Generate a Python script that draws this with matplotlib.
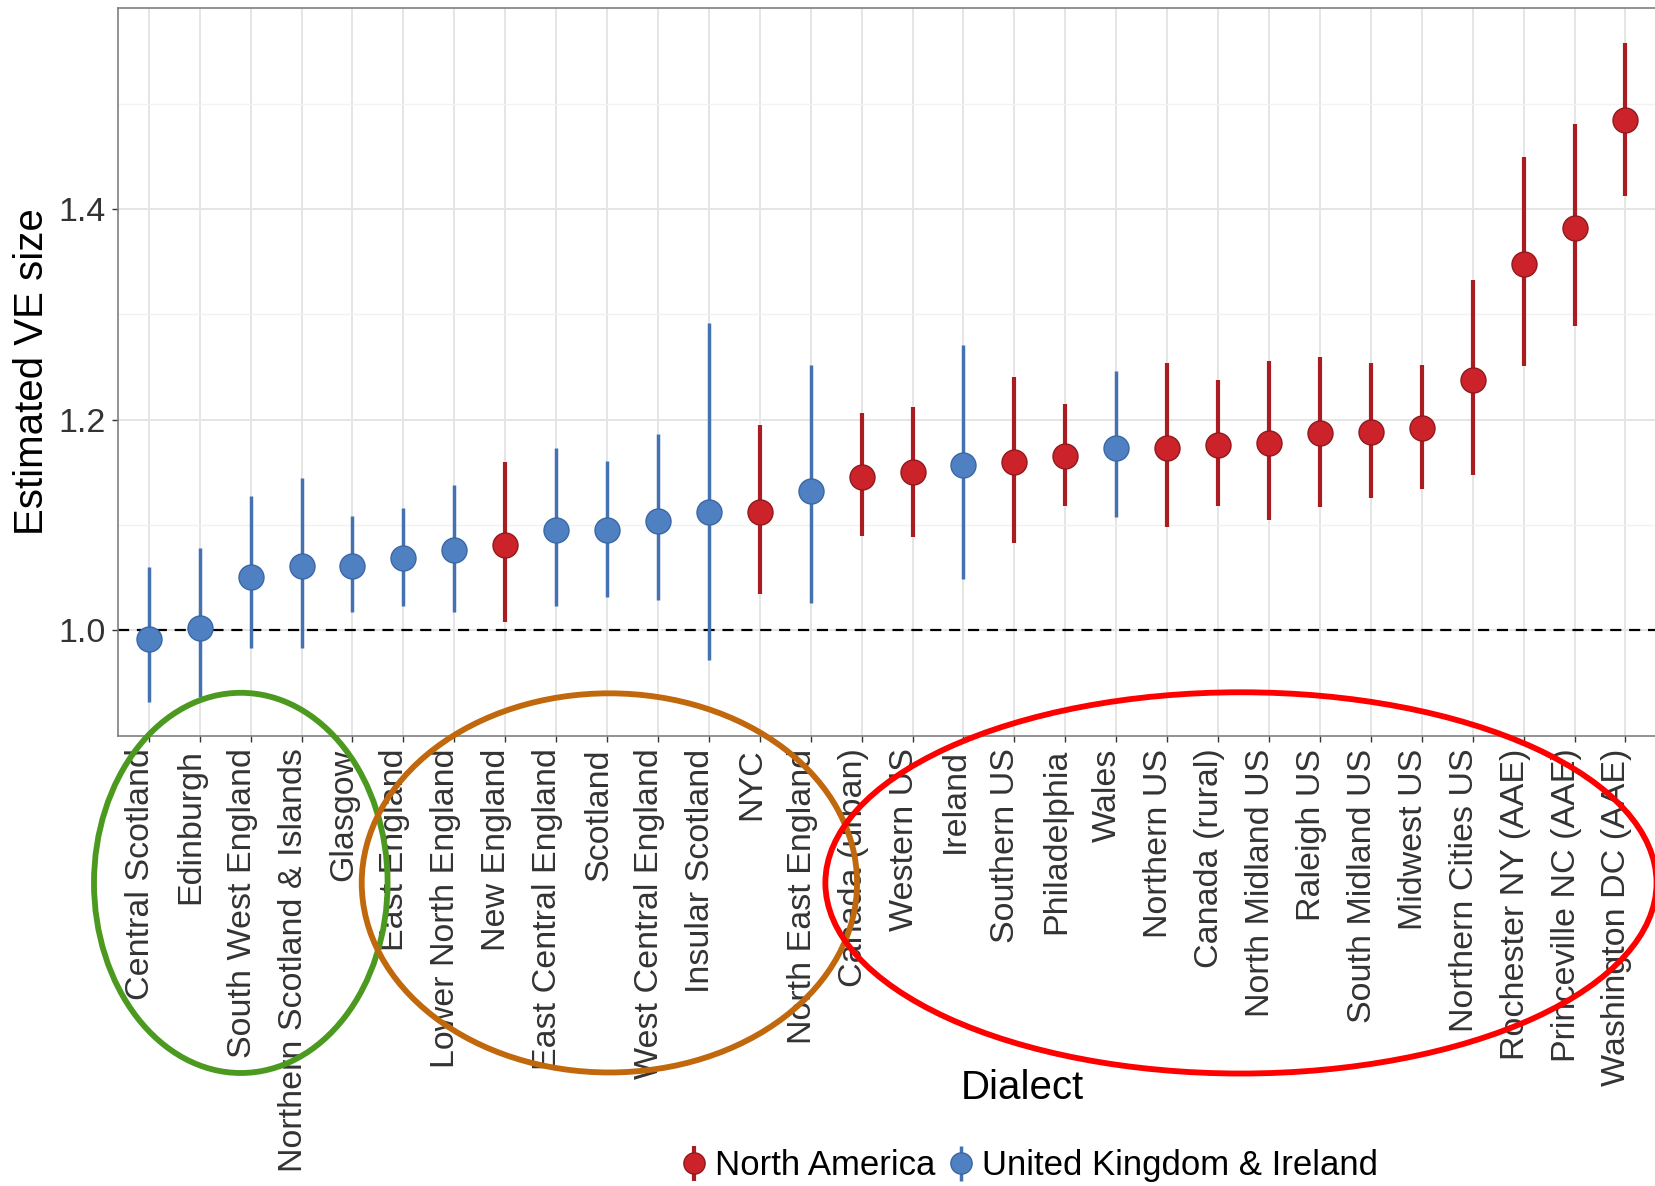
import matplotlib
matplotlib.use("Agg")
import matplotlib.pyplot as plt
import numpy as np
from matplotlib.patches import Ellipse

# dialects, ordered by estimated VE size
dialects = [
    "Central Scotland", "Edinburgh", "South West England",
    "Northern Scotland & Islands", "Glasgow", "East England",
    "Lower North England", "New England", "East Central England", "Scotland",
    "West Central England", "Insular Scotland", "NYC", "North East England",
    "Canada (urban)", "Western US", "Ireland", "Southern US", "Philadelphia",
    "Wales", "Northern US", "Canada (rural)", "North Midland US", "Raleigh US",
    "South Midland US", "Midwest US", "Northern Cities US",
    "Rochester NY (AAE)", "Princeville NC (AAE)", "Washington DC (AAE)",
]
region = [
    "UK", "UK", "UK", "UK", "UK", "UK", "UK", "NA", "UK", "UK",
    "UK", "UK", "NA", "UK", "NA", "NA", "UK", "NA", "NA", "UK",
    "NA", "NA", "NA", "NA", "NA", "NA", "NA", "NA", "NA", "NA",
]
estimate = [
    0.992, 1.002, 1.051, 1.061, 1.061, 1.069, 1.076, 1.081, 1.095, 1.095,
    1.104, 1.112, 1.112, 1.132, 1.146, 1.150, 1.157, 1.160, 1.166, 1.173,
    1.173, 1.176, 1.178, 1.187, 1.188, 1.192, 1.238, 1.348, 1.382, 1.485,
]
lower = [
    0.932, 0.937, 0.983, 0.983, 1.017, 1.023, 1.017, 1.008, 1.023, 1.032,
    1.029, 0.972, 1.035, 1.026, 1.090, 1.089, 1.049, 1.083, 1.118, 1.108,
    1.098, 1.118, 1.105, 1.117, 1.126, 1.134, 1.148, 1.251, 1.289, 1.412,
]
upper = [
    1.060, 1.078, 1.128, 1.145, 1.109, 1.116, 1.138, 1.160, 1.173, 1.161,
    1.186, 1.292, 1.195, 1.252, 1.206, 1.212, 1.271, 1.241, 1.215, 1.246,
    1.254, 1.238, 1.256, 1.260, 1.254, 1.252, 1.333, 1.449, 1.481, 1.558,
]

styles = {
    "NA": dict(label="North America", face="#CC2229", edge="#8E1A1E", line="#A81C22", lw=3.0),
    "UK": dict(label="United Kingdom & Ireland", face="#4F80C2", edge="#3B67A3", line="#4472B0", lw=2.5),
}

fig = plt.figure(figsize=(16.56, 11.86), dpi=100)
ax = fig.add_axes([0.0714, 0.3794, 0.9286, 0.6135])

x = np.arange(1, len(dialects) + 1)
est = np.array(estimate)
lo = np.array(lower)
hi = np.array(upper)
reg = np.array(region)

handles = {}
for key in ["NA", "UK"]:
    s = styles[key]
    m = reg == key
    h = ax.errorbar(x[m], est[m], yerr=[est[m] - lo[m], hi[m] - est[m]],
                    fmt="o", ms=18, mfc=s["face"], mec=s["edge"], mew=1.0,
                    ecolor=s["line"], elinewidth=s["lw"], capsize=0, zorder=3,
                    label=s["label"])
    handles[key] = h

ax.axhline(1.0, color="black", ls=(0, (5, 3.5)), lw=1.6, zorder=2)

ax.set_xlim(0.4, 30.6)
ax.set_ylim(0.8997, 1.5905)
ax.set_xticks(x)
# rotated labels hang from the tick with their baseline on the tick line
ax.set_xticklabels(dialects, rotation=90, rotation_mode="anchor",
                   ha="right", va="baseline",
                   fontsize=24.5, color="#333333",
                   fontfamily="Liberation Sans")

ax.set_yticks([1.0, 1.2, 1.4])
ax.set_yticklabels(["1.0", "1.2", "1.4"], fontsize=24.5, color="#333333",
                   fontfamily="Liberation Sans")
ax.set_yticks([1.1, 1.3, 1.5], minor=True)

ax.grid(True, which="major", color="#E5E5E5", lw=1.4, zorder=0)
ax.grid(True, which="minor", axis="y", color="#F2F2F2", lw=1.0, zorder=0)
ax.set_axisbelow(True)
ax.tick_params(axis="both", which="major", length=4, width=1.0, color="#333333", pad=5)
ax.tick_params(axis="y", which="minor", length=0)
for sp in ax.spines.values():
    sp.set_color("#7F7F7F")
    sp.set_linewidth(1.2)

fig.text(0.0195, 0.6863, "Estimated VE size", rotation=90, ha="center",
         va="center", fontsize=29, fontfamily="Liberation Sans")
fig.text(0.6175, 0.0829, "Dialect", ha="center", va="center",
         fontsize=29, fontfamily="Liberation Sans")

leg = fig.legend([handles["NA"], handles["UK"]],
                 [styles["NA"]["label"], styles["UK"]["label"]],
                 loc="center", bbox_to_anchor=(0.621, 0.0169), ncol=2,
                 frameon=False, handlelength=0.9, handletextpad=0.15,
                 columnspacing=0.3, markerscale=0.85,
                 prop={"family": "Liberation Sans", "size": 25})

# highlighted groups of dialects
ellipses = [
    ((228, 836), 278, 360, "#4B9A1F"),
    ((577, 836), 469, 359, "#C1670C"),
    ((1175, 836), 787, 361, "#FF0000"),
]
W, H = 1568.0, 1123.0
for (cx, cy), w, h, c in ellipses:
    e = Ellipse((cx / W, 1 - cy / H), w / W, h / H, transform=fig.transFigure,
                fill=False, edgecolor=c, lw=4.2, zorder=10)
    fig.patches.append(e)

fig.savefig("out.png", dpi=100)
